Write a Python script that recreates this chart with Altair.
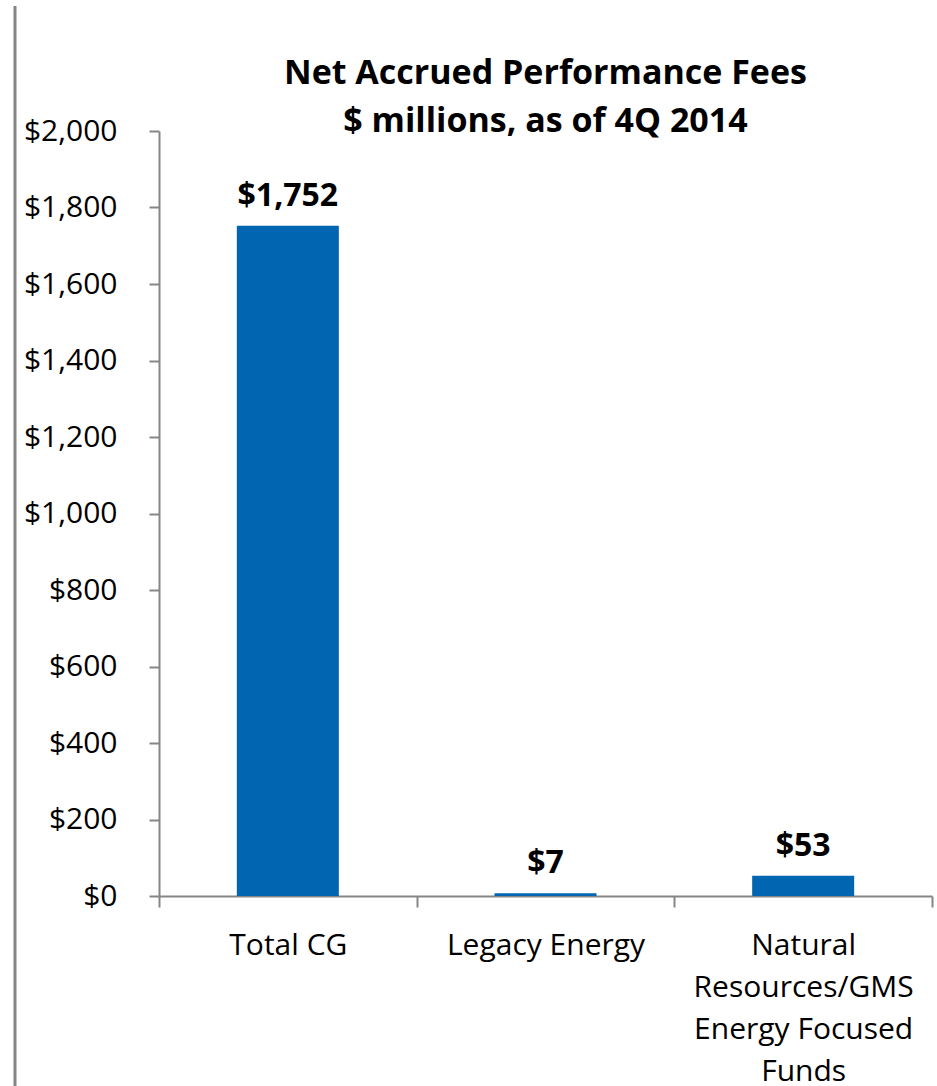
import altair as alt
import pandas as pd

categories = ["Total CG", "Legacy Energy", "Natural Resources/GMS Energy Focused Funds"]
values = [1752, 7, 53]
y_ticks = [0, 200, 400, 600, 800, 1000, 1200, 1400, 1600, 1800, 2000]
title_lines = ["Net Accrued Performance Fees", "$ millions, as of 4Q 2014"]

df = pd.DataFrame({"category": categories, "value": values})

FONT = "Open Sans"
GRAY = "#868686"
BLUE = "#0265B2"

base = alt.Chart(df)

x_enc = alt.X(
    "category:N",
    sort=categories,
    title=None,
    scale=alt.Scale(paddingInner=0, paddingOuter=0),
    axis=alt.Axis(
        labelAngle=0,
        tickBand="extent",
        tickSize=11,
        labelPadding=23,
        labelFontSize=30,
        labelLineHeight=42,
        labelLimit=0,
        labelExpr="datum.value == 'Natural Resources/GMS Energy Focused Funds' ? ['Natural', 'Resources/GMS', 'Energy Focused', 'Funds'] : datum.label",
    ),
)

y_enc = alt.Y(
    "value:Q",
    title=None,
    scale=alt.Scale(domain=[0, 2000], nice=False),
    axis=alt.Axis(
        values=y_ticks,
        format="$,.0f",
        tickSize=10,
        labelPadding=32,
        labelFontSize=30,
        labelLimit=0,
        grid=False,
    ),
)

bars = base.mark_bar(size=102, color=BLUE).encode(x=x_enc, y=y_enc)

labels = base.mark_text(
    font=FONT, fontSize=32, fontWeight="bold", baseline="alphabetic", dy=-20, color="black"
).encode(
    x=alt.X("category:N", sort=categories),
    y=alt.Y("value:Q"),
    text=alt.Text("value:Q", format="$,.0f"),
)

left_line = alt.Chart(pd.DataFrame({"a": [0]})).mark_rule(color=GRAY, strokeWidth=3).encode(
    x=alt.value(-144), y=alt.value(-125), y2=alt.value(955)
)

chart = (
    alt.layer(left_line, bars, labels)
    .properties(
        width=773,
        height=765,
        autosize=alt.AutoSizeParams(type="none"),
        padding={"left": 159, "top": 131, "right": 5, "bottom": 190},
        title=alt.TitleParams(
            text=title_lines,
            font=FONT,
            fontSize=34,
            fontWeight="bold",
            color="black",
            anchor="middle",
            frame="group",
            lineHeight=48,
            offset=-134,
        ),
    )
    .configure_view(stroke=None)
    .configure_axis(
        domainColor=GRAY,
        tickColor=GRAY,
        domainWidth=2,
        tickWidth=2,
        labelFont=FONT,
        labelColor="black",
    )
)

chart.save("out.html", embed_options={"renderer": "svg", "actions": False})
